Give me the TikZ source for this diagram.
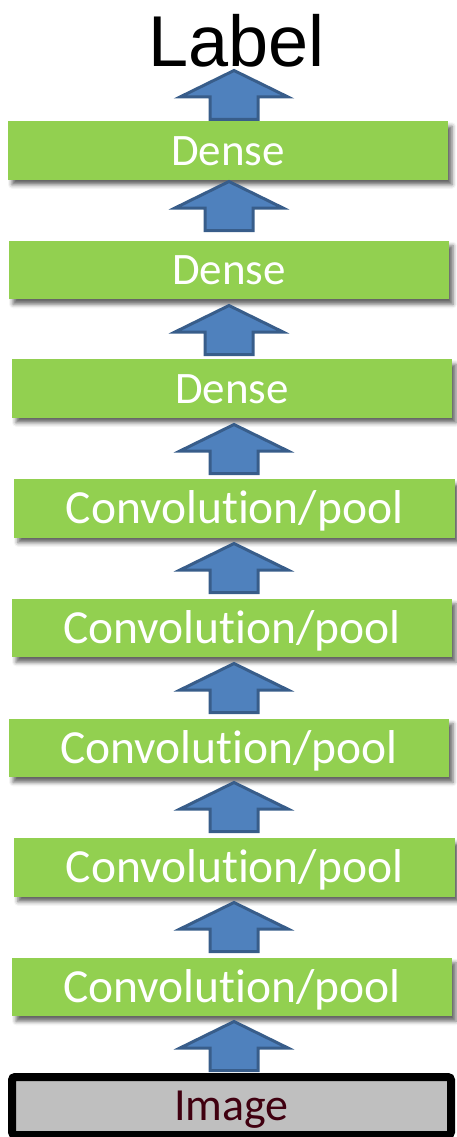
\documentclass[tikz,border=0pt]{standalone}
\usepackage{fontspec}
\newfontfamily\boxfont{Carlito}[Ligatures=NoCommon]
\newfontfamily\titlefont{Liberation Sans}
\usetikzlibrary{shadows.blur}
\definecolor{layergreen}{HTML}{92D050}
\definecolor{arrowfill}{HTML}{4F81BD}
\definecolor{arrowline}{HTML}{385D8A}
\definecolor{inputgray}{HTML}{BFBFBF}
\definecolor{inputtext}{RGB}{64,0,16}
\begin{document}
\begin{tikzpicture}[x=1pt,y=-1pt,
  layer/.style={rectangle, fill=layergreen, inner sep=0pt,
    minimum width=440pt, minimum height=58.5pt, text=white,
    text height=29pt, text depth=0pt,
    blur shadow={shadow xshift=4pt, shadow yshift=-5pt,
      shadow blur radius=4pt, shadow opacity=60}},
  dense/.style={layer, font=\boxfont\fontsize{45}{54}\selectfont},
  conv/.style={layer, font=\boxfont\fontsize{47.5}{56}\selectfont,
    text height=30pt},
  inputbox/.style={rectangle, fill=inputgray, draw=black, line width=8pt,
    rounded corners=3pt, inner sep=0pt, minimum width=439pt,
    minimum height=58pt, text=inputtext, text height=29pt, text depth=0pt,
    font=\boxfont\fontsize{46}{55}\selectfont},
  uparrow/.pic={
    \filldraw[fill=arrowfill, draw=arrowline, line width=3pt,
      line join=miter]
      (-24,-1.5) -- (-24,-24) -- (-54,-24) -- (0,-50.5) -- (54,-24)
      -- (24,-24) -- (24,-1.5) -- cycle;
  }
]
\useasboundingbox (0,0) rectangle (456,1137);

% output label
\node[font=\titlefont\fontsize{72}{80}\selectfont, anchor=base,
  inner sep=0pt] (label) at (236.5,67) {Label};

% fully connected layers
\node[dense] (d3) at (228,150.5) {Dense};
\node[dense] (d2) at (229,270) {Dense};
\node[dense] (d1) at (232,388.5) {Dense};

% convolution / pooling layers
\node[conv, minimum width=441pt] (c5) at (234.5,508.5) {Convolution/pool};
\node[conv] (c4) at (232,628) {Convolution/pool};
\node[conv] (c3) at (229,748) {Convolution/pool};
\node[conv, minimum width=441pt] (c2) at (234.5,867.5) {Convolution/pool};
\node[conv] (c1) at (232,987) {Convolution/pool};

% input
\node[inputbox] (img) at (231.5,1106) {Image};

% block arrows between the layers (origin = foot of the shaft)
\pic at (234,121) {uparrow};
\pic at (229,232) {uparrow};
\pic at (229,356) {uparrow};
\pic at (234,475) {uparrow};
\pic at (234,594) {uparrow};
\pic at (234,714) {uparrow};
\pic at (234,833) {uparrow};
\pic at (234,953) {uparrow};
\pic at (234,1072) {uparrow};
\end{tikzpicture}
\end{document}
